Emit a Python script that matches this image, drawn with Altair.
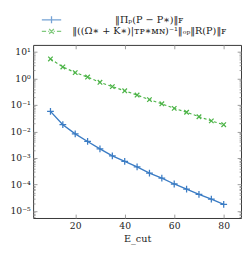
import altair as alt
import pandas as pd

# ---- data ----
E_cut = [10, 15, 20, 25, 30, 35, 40, 45, 50, 55, 60, 65, 70, 75, 80]
err_proj = [0.057, 0.018, 0.0081, 0.0042, 0.0022, 0.0012, 0.00075, 0.00046,
            0.00027, 0.000175, 0.000105, 0.000067, 0.000043, 0.000028, 0.000018]
err_bound = [5.4, 2.7, 1.65, 1.12, 0.71, 0.49, 0.34, 0.235,
             0.158, 0.11, 0.074, 0.053, 0.036, 0.025, 0.018]
series_labels = ["‖Πₚ(P − P∗)‖ꜰ", "‖((Ω∗ + K∗)|ᴛᴘ∗ᴍɴ)⁻¹‖ₒₚ‖R(P)‖ꜰ"]
x_ticks = [20, 40, 60, 80]
y_major = [1e-5, 1e-4, 1e-3, 1e-2, 1e-1, 1e0, 1e1]
x_title = "E_cut"

BLUE = "#3b7cc4"
GREEN = "#4db448"
FONT = "DejaVu Serif"
TEXT = "#222222"
TICK = "#9a9a9a"

rows = []
for e, a, b in zip(E_cut, err_proj, err_bound):
    rows.append({"E": e, "err": a, "series": series_labels[0]})
    rows.append({"E": e, "err": b, "series": series_labels[1]})
df = pd.DataFrame(rows)

y_lo, y_hi = 10 ** -5.26, 10 ** 1.26
y_minor = [k * 10.0 ** d for d in range(-6, 2) for k in range(2, 10)]
y_minor = [v for v in y_minor if y_lo <= v <= y_hi]

xs = alt.Scale(domain=[3, 87], nice=False, zero=False)
ys = alt.Scale(type="log", domain=[y_lo, y_hi], nice=False)

label_expr = ("['10⁻⁵','10⁻⁴','10⁻³','10⁻²','10⁻¹','10⁰','10¹']"
              "[round(log(datum.value)/LN10)+5]")

ax_left = alt.Axis(orient="left", values=y_major, labelExpr=label_expr, tickSize=4,
                   offset=-4, domain=False, grid=False, tickColor=TICK, title=None,
                   labelFont=FONT, labelFontSize=9.5, labelPadding=3, labelColor=TEXT)
ax_right = alt.Axis(orient="right", values=y_major, labels=False, tickSize=4,
                    offset=-4, domain=False, grid=False, tickColor=TICK, title=None)
ax_left_minor = alt.Axis(orient="left", values=y_minor, labels=False, tickSize=2,
                         offset=-2, domain=False, grid=False, tickColor=TICK, title=None)
ax_right_minor = alt.Axis(orient="right", values=y_minor, labels=False, tickSize=2,
                          offset=-2, domain=False, grid=False, tickColor=TICK, title=None)
ax_bottom = alt.Axis(orient="bottom", values=x_ticks, tickSize=4, offset=-4,
                     domain=False, grid=False, tickColor=TICK, title=x_title,
                     labelFont=FONT, labelFontSize=9.5, labelPadding=3, labelColor=TEXT,
                     titleFont=FONT, titleFontSize=10, titleFontWeight="normal",
                     titlePadding=4, titleColor=TEXT)
ax_top = alt.Axis(orient="top", values=x_ticks, labels=False, tickSize=4, offset=-4,
                  domain=False, grid=False, tickColor=TICK, title=None)

base = alt.Chart(df)
s0 = f"datum.series == '{series_labels[0]}'"
s1 = f"datum.series == '{series_labels[1]}'"

blue_line = base.transform_filter(s0).mark_line(
    color=BLUE, strokeWidth=1.4, clip=True
).encode(
    x=alt.X("E:Q", scale=xs, axis=ax_bottom),
    y=alt.Y("err:Q", scale=ys, axis=ax_left),
)
blue_pts = base.transform_filter(s0).mark_point(
    shape="M-1,0L1,0M0,-1L0,1", size=49, filled=False, color=BLUE, strokeWidth=1.3,
    opacity=1, clip=True
).encode(x=alt.X("E:Q", scale=xs, axis=None), y=alt.Y("err:Q", scale=ys, axis=None))

green_line = base.transform_filter(s1).mark_line(
    color=GREEN, strokeWidth=1.2, strokeDash=[3, 2.5], clip=True
).encode(
    x=alt.X("E:Q", scale=xs, axis=ax_top),
    y=alt.Y("err:Q", scale=ys, axis=ax_right),
)
green_pts = base.transform_filter(s1).mark_point(
    shape="M-1,-1L1,1M-1,1L1,-1", size=22, filled=False, color=GREEN, strokeWidth=1.3,
    opacity=1, clip=True
).encode(x=alt.X("E:Q", scale=xs, axis=None), y=alt.Y("err:Q", scale=ys, axis=None))

empty = base.transform_filter("datum.E < 0")
minor_left = empty.mark_point(opacity=0, clip=True).encode(
    x=alt.X("E:Q", scale=xs, axis=None), y=alt.Y("err:Q", scale=ys, axis=ax_left_minor))
minor_right = empty.mark_point(opacity=0, clip=True).encode(
    x=alt.X("E:Q", scale=xs, axis=None), y=alt.Y("err:Q", scale=ys, axis=ax_right_minor))

leg = dict(title=None, orient="none", legendX=14, legendY=-31, symbolSize=64,
           symbolStrokeWidth=1.3, symbolOffset=0, padding=0, labelAlign="center",
           labelOffset=96, labelFont=FONT, labelFontSize=10, labelLimit=400,
           rowPadding=0, labelColor=TEXT)
legend_sym = [
    "M-2.5,0L2.5,0M0,-0.9L0,0.9M-0.9,0L0.9,0",
    "M-2.5,0L-1.4,0M-0.85,0L-0.6,0M0.6,0L0.85,0M1.4,0L2.5,0M-0.6,-0.6L0.6,0.6M-0.6,0.6L0.6,-0.6",
]
legend_layer = empty.mark_point(filled=False, clip=True).encode(
    x=alt.X("E:Q", scale=xs, axis=None),
    y=alt.Y("err:Q", scale=ys, axis=None),
    color=alt.Color("series:N", scale=alt.Scale(domain=series_labels, range=[BLUE, GREEN]),
                    legend=alt.Legend(**leg)),
    shape=alt.Shape("series:N", scale=alt.Scale(domain=series_labels, range=legend_sym),
                    legend=alt.Legend(**leg)),
)

chart = alt.layer(
    blue_line, green_line, minor_left, minor_right, blue_pts, green_pts, legend_layer
).resolve_axis(x="independent", y="independent").properties(
    width=215, height=179,
    padding={"left": 26, "top": 34, "right": 1, "bottom": 32},
    autosize=alt.AutoSizeParams(type="none"),
).configure_view(stroke="#333", strokeWidth=1)

chart.save("out.html", embed_options={"renderer": "svg", "actions": False})
